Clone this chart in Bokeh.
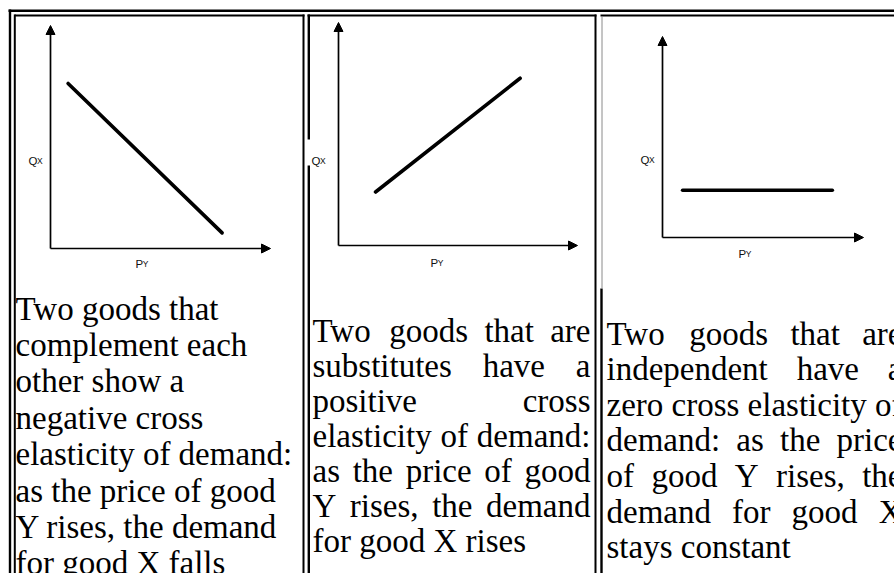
from bokeh.plotting import figure
from bokeh.models import Range1d, Arrow, NormalHead, ColumnDataSource
from bokeh.core.properties import value
from bokeh.embed import file_html
from bokeh.resources import INLINE

# ---------------- data ----------------
panels = ["complements", "substitutes", "independent"]
# line in each mini chart, in data units (axes run 0..10)
py_start = [0.8, 1.55, 1.0]
py_end = [7.8, 7.6, 8.45]
qx_start = [7.4, 2.4, 2.35]
qx_end = [0.7, 7.5, 2.35]
axis_max = 10
y_label, y_sub = "Q", "X"
x_label, x_sub = "P", "Y"

texts = [
    ["Two goods that", "complement each", "other show a", "negative cross",
     "elasticity of demand:", "as the price of good", "Y rises, the demand",
     "for good X falls"],
    ["Two goods that are", "substitutes have a", "positive cross",
     "elasticity of demand:", "as the price of good", "Y rises, the demand",
     "for good X rises"],
    ["Two goods that are", "independent have a", "zero cross elasticity of",
     "demand: as the price", "of good Y rises, the", "demand for good X",
     "stays constant"],
]
justified = [False, True, True]

# ---------------- layout (window pixels) ----------------
W, H = 894, 573
X0, Y0 = 0, 0
origin_px = [(50, 248), (338, 245), (662, 237)]
axis_len_px = [(220, 223), (239, 223), (201, 201)]
qlabel_px = [(28, 160), (311, 160), (640, 159)]
plabel_px = [(135, 263), (430, 262), (738, 253)]
text_box = [(15, 298), (312, 590), (606, 902)]
text_top = [308, 330, 333]
text_step = [36.4, 35.0, 35.6]
FS = 33

TNR = {' ': 250, 'a': 444, 'b': 500, 'c': 444, 'd': 500, 'e': 444, 'f': 333,
       'g': 500, 'h': 500, 'i': 278, 'j': 278, 'k': 500, 'l': 278, 'm': 778,
       'n': 500, 'o': 500, 'p': 500, 'q': 500, 'r': 333, 's': 389, 't': 278,
       'u': 500, 'v': 500, 'w': 722, 'x': 500, 'y': 500, 'z': 444, 'T': 611,
       'X': 722, 'Y': 722, ',': 250, ':': 278}


def tw(s):
    return sum(TNR.get(c, 500) for c in s) * FS / 1000.0


p = figure(width=W, height=H, x_range=Range1d(X0, X0 + W),
           y_range=Range1d(Y0 + H, Y0), x_axis_type=None, y_axis_type=None,
           toolbar_location=None, output_backend="svg", min_border=0,
           outline_line_color=None, background_fill_color="white",
           border_fill_color="white")

# ---------------- table borders ----------------
bx0, by0, bx1, by1 = [], [], [], []
bw = []


def seg(a, b, c, d, w):
    bx0.append(a); by0.append(b); bx1.append(c); by1.append(d); bw.append(w)


seg(8, 10.3, 1000, 10.3, 2.4)
seg(9.5, 9, 9.5, 1000, 2.4)
seg(14, 15, 304, 15, 2)
seg(14.3, 14, 14.3, 1000, 2)
seg(303, 14, 303, 1000, 2)
seg(307, 15, 596, 15, 2)
seg(308.3, 14, 308.3, 1000, 2.4)
seg(595, 14, 595, 1000, 2)
seg(600, 15, 1000, 15, 2)
seg(601, 288, 601, 1000, 2.4)
p.segment(x0=bx0, y0=by0, x1=bx1, y1=by1, line_width=bw, line_color="black")
# image edge inside cell 3
p.segment(x0=[601.5], y0=[16], x1=[601.5], y1=[288], line_width=1,
          line_color="#8a8a8a")
# white image background covering cell 2 border behind its label
p.quad(left=[306], right=[311], top=[139], bottom=[165], fill_color="white",
       line_color=None)

# ---------------- mini charts ----------------
for i, name in enumerate(panels):
    ox, oy = origin_px[i]
    aw, ah = axis_len_px[i]
    xr, yr = f"px{i}", f"qy{i}"
    p.extra_x_ranges[xr] = Range1d((X0 - ox) * axis_max / aw,
                                   (X0 + W - ox) * axis_max / aw)
    p.extra_y_ranges[yr] = Range1d((oy - (Y0 + H)) * axis_max / ah,
                                   (oy - Y0) * axis_max / ah)
    for xe, ye in [(0, axis_max), (axis_max, 0)]:
        p.add_layout(Arrow(end=NormalHead(size=9, fill_color="black",
                                          line_color="black", line_width=1),
                           x_start=0, y_start=0, x_end=xe, y_end=ye,
                           line_width=1.7, line_color="black",
                           x_range_name=xr, y_range_name=yr))
    p.line([py_start[i], py_end[i]], [qx_start[i], qx_end[i]],
           line_width=3.6, line_color="black", line_cap="round",
           x_range_name=xr, y_range_name=yr)

    qx, qy = qlabel_px[i]
    px_, py_ = plabel_px[i]
    p.text(x=[qx, px_], y=[qy, py_], text=[y_label, x_label],
           text_font=value("Liberation Sans"), text_font_size="11.5px",
           text_baseline="alphabetic", text_align="left", text_color="#111111")
    p.text(x=[qx + 8.6, px_ + 7.3], y=[qy, py_], text=[y_sub, x_sub],
           text_font=value("Liberation Sans"), text_font_size="8.5px",
           text_baseline="alphabetic", text_align="left", text_color="#111111")

# ---------------- cell texts ----------------
wx, wy, wt = [], [], []
for i, lines in enumerate(texts):
    L, R = text_box[i]
    for j, line in enumerate(lines):
        y = text_top[i] + j * text_step[i]
        last = (j == len(lines) - 1)
        if not justified[i] or last:
            wx.append(L); wy.append(y); wt.append(line)
            continue
        words = line.split(" ")
        total = sum(tw(w) for w in words)
        gap = (R - L - total) / (len(words) - 1)
        x = L
        for w in words:
            wx.append(x); wy.append(y); wt.append(w)
            x += tw(w) + gap

src = ColumnDataSource(dict(x=wx, y=wy, text=wt))
p.text(x="x", y="y", text="text", source=src,
       text_font=value("Liberation Serif"), text_font_size=f"{FS}px",
       text_baseline="alphabetic", text_align="left", text_color="black")

open("out.html", "w").write(file_html(p, INLINE))
